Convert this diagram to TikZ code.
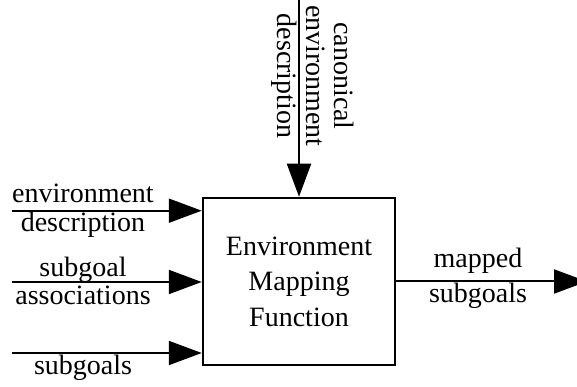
\documentclass[tikz,border=0pt]{standalone}
\usepackage{fontspec}
\setmainfont{Liberation Serif}
\usetikzlibrary{arrows.meta}
\begin{document}
\begin{tikzpicture}[x=1pt,y=1pt,
  flow/.style={line width=2pt,-{Triangle[length=33pt,width=24pt]}},
  fbox/.style={draw,line width=2.5pt,minimum width=192pt,minimum height=167pt,inner sep=0pt,align=center,
    font=\fontsize{28}{35.5}\selectfont},
  lbl/.style={anchor=base,inner sep=0pt,font=\fontsize{28}{29}\selectfont}]
\useasboundingbox (0,0) rectangle (577,387);
\node[fbox] (B) at (299,105.5) {Environment\\Mapping\\Function};
% inputs
\coordinate (in1) at (12,176.3);
\coordinate (in2) at (12,105);
\coordinate (in3) at (12,34);
\coordinate (ctl) at (299,387);
\coordinate (out) at (587,105.5);
\draw[flow] (in1) -- (in1 -| B.west);
\draw[flow] (in2) -- (in2 -| B.west);
\draw[flow] (in3) -- (in3 -| B.west);
\draw[flow] (ctl) -- (B.north);
\draw[flow] (B.east) -- (out);
% labels
\node[lbl] (l1a) at (83,184) {environment};
\node[lbl] (l1b) at (83,155) {description};
\node[lbl] (l2a) at (83,110) {subgoal};
\node[lbl] (l2b) at (83,82) {associations};
\node[lbl] (l3) at (83,12) {subgoals};
\node[lbl] (o1) at (478,119) {mapped};
\node[lbl] (o2) at (478,84) {subgoals};
\node[inner sep=0pt,rotate=-90,align=center,font=\fontsize{28}{28.5}\selectfont] (c) at (313,311) {canonical\\environment\\description};
\end{tikzpicture}
\end{document}
